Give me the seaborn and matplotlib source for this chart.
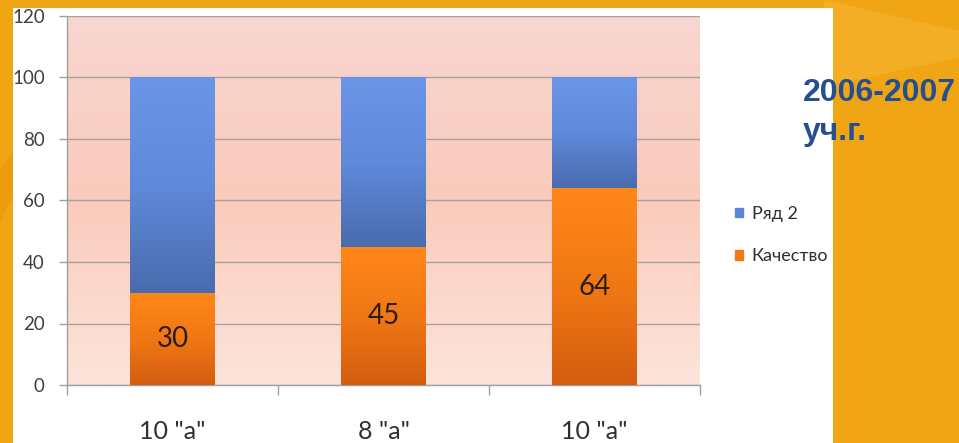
import numpy as np
import pandas as pd
import seaborn as sns
import matplotlib
matplotlib.use('Agg')
import matplotlib.pyplot as plt
from matplotlib.patches import Rectangle, Polygon
from matplotlib.colors import LinearSegmentedColormap

# data
classes = ['10 "а"', '8 "а"', '10 "а"']
quality = [30, 45, 64]        # Качество
row2 = [70, 55, 36]           # Ряд 2
y_ticks = [0, 20, 40, 60, 80, 100, 120]

sns.set_theme(style="white")
plt.rcParams['font.family'] = ['Lato', 'DejaVu Sans']

W, H = 959, 443
fig = plt.figure(figsize=(W / 100, H / 100), dpi=100, facecolor='#f0a515')

# slide background streaks + white chart panel
fig.add_artist(Polygon([(0.86, 1.0), (1.0, 0.93), (1.0, 0.87), (0.85, 0.8)],
                       closed=True, transform=fig.transFigure,
                       color='#f7bb3a', alpha=0.45, zorder=-2, lw=0))
fig.add_artist(Polygon([(0.0, 0.62), (0.014, 0.66), (0.014, 0.56), (0.0, 0.5)],
                       closed=True, transform=fig.transFigure,
                       color='#e8960f', alpha=0.6, zorder=-2, lw=0))
fig.add_artist(Rectangle((13 / W, 0), (833 - 13) / W, (H - 8) / H,
                         transform=fig.transFigure, color='white', zorder=-1, lw=0))

ax = fig.add_axes([67 / W, (H - 385) / H, (700 - 67) / W, (385 - 16) / H])
ax.set_facecolor('none')

df = pd.DataFrame({
    'pos': [str(i) for i in range(len(classes))],
    'total': np.array(quality) + np.array(row2),
    'quality': quality,
})
order = list(df['pos'])

sns.barplot(data=df, x='pos', y='total', order=order, color='#5b84d6',
            width=0.4, saturation=1, linewidth=0, ax=ax, zorder=3)
sns.barplot(data=df, x='pos', y='quality', order=order, color='#f07a16',
            width=0.4, saturation=1, linewidth=0, ax=ax, zorder=4)

# plot area gradient background
bg = LinearSegmentedColormap.from_list('bg', ['#fde4db', '#facbbb', '#f8d6d1'])
ax.imshow(np.linspace(0, 1, 256).reshape(-1, 1), cmap=bg, aspect='auto',
          origin='lower', extent=(-0.5, len(classes) - 0.5, 0, 120), zorder=0)

# gradients on bars
blue_cm = LinearSegmentedColormap.from_list('b', ['#4a6cae', '#5f89da', '#6b95e8'])
orange_cm = LinearSegmentedColormap.from_list('o', ['#d45d10', '#f07814', '#ff8719'])
grad = np.linspace(0, 1, 256).reshape(-1, 1)
blue_bars = ax.containers[0]
orange_bars = ax.containers[1]
for pb, po in zip(blue_bars, orange_bars):
    x0, w = pb.get_x(), pb.get_width()
    im = ax.imshow(grad, cmap=blue_cm, aspect='auto', origin='lower',
                   extent=(x0, x0 + w, po.get_height(), pb.get_height()), zorder=3.5)
    im.set_clip_path(pb)
    x0, w = po.get_x(), po.get_width()
    im = ax.imshow(grad, cmap=orange_cm, aspect='auto', origin='lower',
                   extent=(x0, x0 + w, 0, po.get_height()), zorder=4.5)
    im.set_clip_path(po)
ax.set_xlim(-0.5, len(classes) - 0.5)
ax.set_ylim(0, 120)

ax.bar_label(orange_bars, labels=[str(v) for v in quality], label_type='center',
             fontsize=20, color='#2e1c12', zorder=6)

# grid and axes
ax.set_yticks(y_ticks)
ax.yaxis.grid(True, color='#a8a09e', lw=1, zorder=1)
ax.set_axisbelow(True)
for s in ['top', 'right']:
    ax.spines[s].set_visible(False)
for s in ['left', 'bottom']:
    ax.spines[s].set_color('#a0a0a0')
    ax.spines[s].set_linewidth(1)
ax.tick_params(axis='y', length=6, width=1, color='#a0a0a0', direction='out',
               pad=10, labelsize=13.5, labelcolor='#404040', left=True)
ax.set_xticks(range(len(classes)))
ax.set_xticklabels(classes)
ax.tick_params(axis='x', length=0, pad=25, labelsize=18, labelcolor='#303030')
ax.set_xticks([i - 0.5 for i in range(len(classes) + 1)], minor=True)
ax.tick_params(axis='x', which='minor', length=7, width=1, color='#a0a0a0',
               direction='out', bottom=True)
ax.set_xlabel('')
ax.set_ylabel('')

# legend
handles = [Rectangle((0, 0), 1, 1, color='#5b84d6'),
           Rectangle((0, 0), 1, 1, color='#f07a16')]
fig.legend(handles, ['Ряд 2', 'Качество'], loc='center left',
           bbox_to_anchor=(719 / W, 1 - 235 / H), frameon=False,
           handlelength=0.45, handleheight=0.45, handletextpad=0.45,
           labelspacing=1.45, fontsize=13, labelcolor='#303030')

# title on the right
fig.text(803 / W, 1 - 101 / H, '2006-2007', ha='left', va='baseline',
         fontsize=23, fontweight='bold', color='#264f8f', family='Liberation Sans')
fig.text(803 / W, 1 - 140 / H, 'уч.г.', ha='left', va='baseline',
         fontsize=23, fontweight='bold', color='#264f8f', family='Liberation Sans')

fig.savefig('out.png', dpi=100, facecolor=fig.get_facecolor())
